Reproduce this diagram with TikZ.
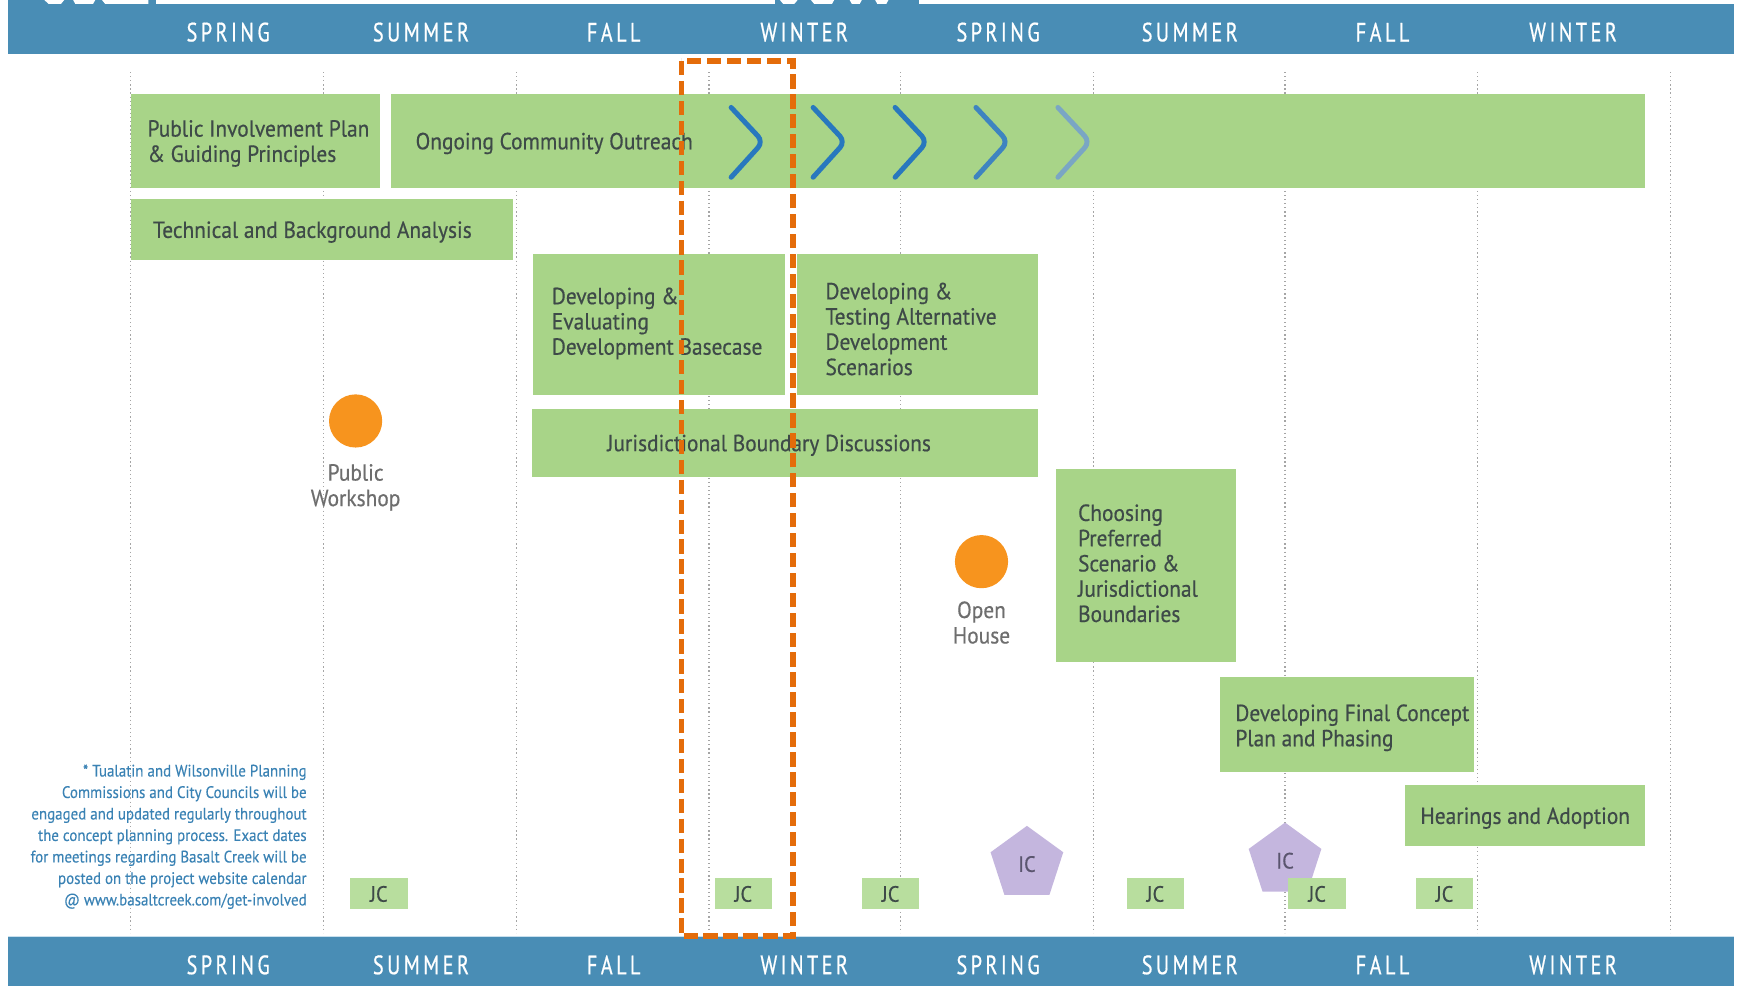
\documentclass[tikz,border=0pt]{standalone}
\usepackage{fontspec}
\setmainfont{PT Sans}[FakeStretch=0.92,FakeBold=0.5]
\newfontfamily\notefont{PT Sans}[FakeStretch=0.9,FakeBold=0.3]
\newfontfamily\seasonfont{PT Sans}[FakeStretch=0.76,FakeBold=0.6,LetterSpace=13]
\usetikzlibrary{shapes.geometric}
\definecolor{barblue}{RGB}{73,141,181}
\definecolor{barlight}{RGB}{200,224,238}
\definecolor{boxgreen}{RGB}{168,212,136}
\definecolor{jcgreen}{RGB}{184,222,158}
\definecolor{txtdark}{RGB}{62,74,72}
\definecolor{circorange}{RGB}{247,148,30}
\definecolor{pentpurple}{RGB}{196,182,222}
\definecolor{ictext}{RGB}{90,85,110}
\definecolor{footblue}{RGB}{58,130,180}
\definecolor{graytext}{RGB}{110,110,110}
\definecolor{hlorange}{RGB}{228,108,10}
\definecolor{gridgray}{RGB}{165,165,165}
\definecolor{chevA}{RGB}{40,120,190}
\definecolor{chevB}{RGB}{62,132,192}
\definecolor{chevC}{RGB}{122,166,196}
\tikzset{
  gbox/.style={fill=boxgreen, draw=none, anchor=north west, inner sep=0pt, outer sep=0pt},
  btxt/.style={anchor=west, align=left, text=txtdark, inner sep=0pt,
    font=\fontsize{21}{22.8}\selectfont},
  season/.style={text=white, inner sep=0pt, font=\seasonfont\fontsize{24}{24}\selectfont},
  gridline/.style={draw=gridgray, line width=1.1pt, dash pattern=on 1.1pt off 2.6pt},
  chev/.style={line width=4.5pt, line cap=round, rounded corners=7pt},
  evdot/.style={circle, fill=circorange, minimum size=48pt, inner sep=0pt},
  evtxt/.style={align=center, text=graytext, inner sep=0pt,
    font=\fontsize{21}{23}\selectfont},
  jcbox/.style={fill=jcgreen, minimum width=52pt, minimum height=28pt, inner sep=0pt,
    text=txtdark, font=\fontsize{20}{20}\selectfont},
  icpent/.style={regular polygon, regular polygon sides=5, fill=pentpurple,
    minimum size=69pt, inner sep=0pt, text=ictext, font=\fontsize{20}{20}\selectfont},
  hl/.style={draw=hlorange, line width=5pt, dash pattern=on 13pt off 5pt}
}
\begin{document}
\begin{tikzpicture}[x=1pt,y=-1pt]
\useasboundingbox (0,0) rectangle (1568,890);
% top bar
\fill[barblue] (7,0) rectangle (1565,49);
\fill[white] (141,0) rectangle (700,3.6);
\fill[white] (830,0) rectangle (1568,3.6);
\fill[white] (40,0) -- (58,0) -- (55,3.6) -- (44,3.6) -- cycle;
\fill[white] (66,0) -- (86,0) -- (84,3.6) -- (68,3.6) -- cycle;
\fill[white] (92,0) -- (134,0) -- (134,3.6) -- (95,3.6) -- cycle;
\fill[white] (704,0) -- (720,0) -- (717,3.6) -- (707,3.6) -- cycle;
\fill[white] (732,0) -- (753,0) -- (751,3.6) -- (735,3.6) -- cycle;
\fill[white] (767,0) -- (778,0) -- (776,3.6) -- (769,3.6) -- cycle;
\fill[white] (790,0) -- (802,0) -- (800,3.6) -- (792,3.6) -- cycle;
% bottom bar
\fill[barblue] (7,846) rectangle (1565,890);
\draw[barlight, line width=1.5pt] (7,845.5) -- (1565,845.5);
\foreach \x/\s [count=\i] in {206/SPRING,380/SUMMER,554/FALL,726/WINTER,901/SPRING,1074/SUMMER,1248/FALL,1420/WINTER}{
  \node[season] (top\i) at (\x,29) {\s};
  \node[season] (bot\i) at (\x,871) {\s};
}
% grid
\foreach \x in {118,292,466,640,813,987,1160,1334,1508}
  \draw[gridline] (\x,65) -- (\x,842);
% boxes
\node[gbox, minimum width=225pt, minimum height=85pt] (pip) at (118,85) {};
\node[btxt] (piptxt) at ([xshift=15pt,yshift=-2pt]pip.west) {Public Involvement Plan\\\& Guiding Principles};
\node[gbox, minimum width=1132pt, minimum height=85pt] (oco) at (353,85) {};
\node[btxt] (ocotxt) at ([xshift=22pt,yshift=-2pt]oco.west) {Ongoing Community Outreach};
\node[gbox, minimum width=345pt, minimum height=55pt] (tba) at (118,180) {};
\node[btxt] (tbatxt) at ([xshift=20pt,yshift=-2pt]tba.west) {Technical and Background Analysis};
\node[gbox, minimum width=228pt, minimum height=128pt] (deb) at (481,229) {};
\node[btxt] (debtxt) at ([xshift=17pt,yshift=1pt]deb.west) {Developing \&\\Evaluating\\Development Basecase};
\node[gbox, minimum width=218pt, minimum height=128pt] (dta) at (719,229) {};
\node[btxt] (dtatxt) at ([xshift=26pt,yshift=-4pt]dta.west) {Developing \&\\Testing Alternative\\Development\\Scenarios};
\node[gbox, minimum width=457pt, minimum height=62pt] (jbd) at (480,369) {};
\node[btxt] (jbdtxt) at ([xshift=68pt,yshift=-2pt]jbd.west) {Jurisdictional Boundary Discussions};
\node[gbox, minimum width=163pt, minimum height=175pt] (cps) at (953,423) {};
\node[btxt] (cpstxt) at ([xshift=20pt,yshift=2pt]cps.west) {Choosing\\Preferred\\Scenario \&\\Jurisdictional\\Boundaries};
\node[gbox, minimum width=230pt, minimum height=86pt] (dfc) at (1101,611) {};
\node[btxt] (dfctxt) at ([xshift=14pt,yshift=-3pt]dfc.west) {Developing Final Concept\\Plan and Phasing};
\node[gbox, minimum width=217pt, minimum height=55pt] (ha) at (1268,709) {};
\node[btxt] (hatxt) at ([xshift=14pt,yshift=-2pt]ha.west) {Hearings and Adoption};
% chevrons
\draw[chev, chevA] (660,97) -- (689,128) -- (660,160);
\draw[chev, chevA] (734,97) -- (763,128) -- (734,160);
\draw[chev, chevA] (808,97) -- (837,128) -- (808,160);
\draw[chev, chevB] (881,97) -- (910,128) -- (881,160);
\draw[chev, chevC] (955,97) -- (984,128) -- (955,160);
% events
\node[evdot] (pw) at (321,380) {};
\node[evtxt] (pwtxt) at (321,440) {Public\\Workshop};
\node[evdot] (oh) at (886,507) {};
\node[evtxt] (ohtxt) at (886,562) {Open\\House};
% footnote
\node[anchor=north east, align=right, inner sep=0pt, text=footblue,
  font=\notefont\fontsize{15}{19.4}\selectfont] (note) at (277,690)
  {* Tualatin and Wilsonville Planning\\Commissions and City Councils will be\\engaged and updated regularly throughout\\the concept planning process. Exact dates\\for meetings regarding Basalt Creek will be\\posted on the project website calendar\\@ www.basaltcreek.com/get-involved};
% IC pentagons
\node[icpent] (ic1) at (927,780) {IC};
\node[icpent] (ic2) at (1160,777) {IC};
% JC boxes
\node[jcbox] (jc1) at (342,807) {JC};
\node[jcbox] (jc2) at (671,807) {JC};
\node[jcbox] (jc3) at (804,807) {JC};
\node[jcbox] (jc4) at (1043,807) {JC};
\node[jcbox] (jc5) at (1189,807) {JC};
\node[jcbox] (jc6) at (1304,807) {JC};
% highlight
\draw[hl] (615,55) rectangle (716,845);
\end{tikzpicture}
\end{document}
